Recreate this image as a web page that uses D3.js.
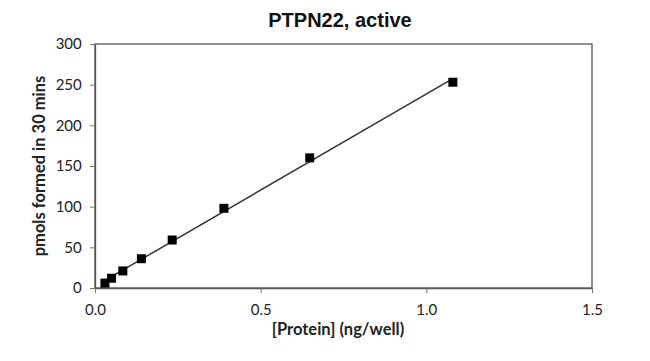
<!DOCTYPE html>
<html><head><meta charset="utf-8">
<script src="https://cdn.jsdelivr.net/npm/d3@7/dist/d3.min.js"></script>
<style>body{margin:0;background:#fff}</style>
</head><body><svg id="c" width="650" height="361"></svg>
<script>
const protein = [0.030, 0.050, 0.084, 0.140, 0.233, 0.389, 0.648, 1.08];
const pmols = [6, 12, 21, 36, 59, 98, 160, 253];
const xTicks = [0, 0.5, 1.0, 1.5];
const yTicks = [0, 50, 100, 150, 200, 250, 300];
const title = "PTPN22, active";
const xLabel = "[Protein] (ng/well)";
const yLabel = "pmols formed in 30 mins";

const svg = d3.select("#c");
const m = {l:95, r:592, t:44, b:288};
const x = d3.scaleLinear().domain([0,1.5]).range([m.l, m.r]);
const y = d3.scaleLinear().domain([0,300]).range([m.b, m.t]);
const tickFont = "Lato, 'Open Sans', sans-serif";

svg.append("rect").attr("x", m.l).attr("y", m.t).attr("width", m.r-m.l).attr("height", m.b-m.t)
  .attr("fill","none").attr("stroke","#555").attr("stroke-width",1.3);

const xa = svg.append("g").attr("transform",`translate(0,${m.b})`)
  .call(d3.axisBottom(x).tickValues(xTicks).tickFormat(d3.format(".1f")).tickSize(5).tickSizeOuter(0));
const ya = svg.append("g").attr("transform",`translate(${m.l},0)`)
  .call(d3.axisLeft(y).tickValues(yTicks).tickSize(5).tickSizeOuter(0));
[xa, ya].forEach(a => {
  a.select(".domain").attr("stroke","#555").attr("stroke-width",1.3);
  a.selectAll(".tick line").attr("stroke","#777");
  a.selectAll("text").attr("font-family", tickFont).attr("font-size", 15).attr("fill","#222");
});
xa.selectAll("text").attr("dy","1.25em");
ya.selectAll("text").attr("dx","-0.35em");

const mx = d3.mean(protein), my = d3.mean(pmols);
const slope = d3.sum(protein.map((v,i)=>(v-mx)*(pmols[i]-my))) / d3.sum(protein.map(v=>(v-mx)**2));
const icpt = my - slope*mx;
const x0 = d3.min(protein), x1 = d3.max(protein);
svg.append("line").attr("x1", x(x0)).attr("y1", y(icpt+slope*x0))
  .attr("x2", x(x1)).attr("y2", y(icpt+slope*x1))
  .attr("stroke","#333").attr("stroke-width",1.5);

svg.selectAll("rect.pt").data(protein).join("rect").attr("class","pt")
  .attr("x", d => x(d)-4.5).attr("y", (d,i) => y(pmols[i])-4.5)
  .attr("width",9).attr("height",9).attr("fill","#000");

svg.append("text").attr("x", 340).attr("y", 27).attr("text-anchor","middle")
  .attr("font-family","'Liberation Sans', Arial, sans-serif").attr("font-weight","bold")
  .attr("font-size",20).attr("fill","#111").text(title);
svg.append("text").attr("x", 338).attr("y", 335).attr("text-anchor","middle")
  .attr("font-family", tickFont).attr("font-weight","bold")
  .attr("font-size",16.5).attr("fill","#222").text(xLabel);
svg.append("text").attr("transform",`translate(45,166) rotate(-90)`).attr("text-anchor","middle")
  .attr("font-family", tickFont).attr("font-weight","bold")
  .attr("font-size",16.5).attr("fill","#222").text(yLabel);
</script></body></html>
